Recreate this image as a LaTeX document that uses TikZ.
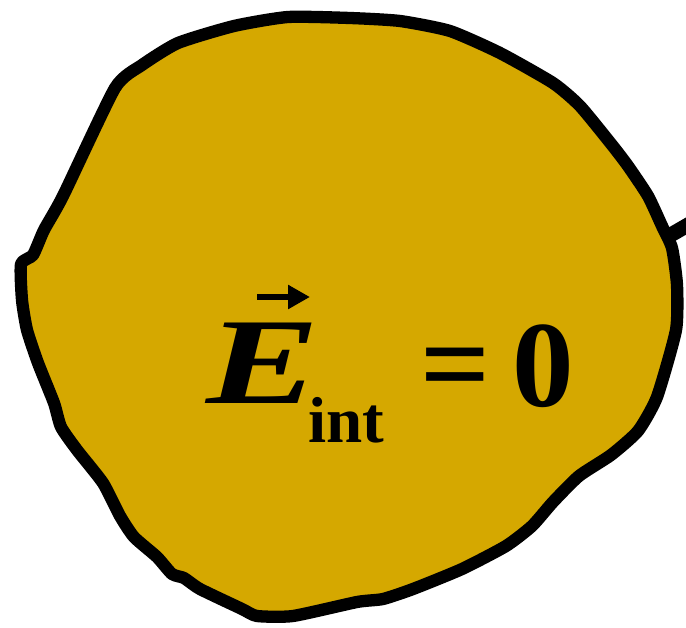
\documentclass[tikz,border=0pt]{standalone}
\usepackage{fontspec}
\setmainfont{Liberation Serif}
\usepackage{tikz}
\usetikzlibrary{arrows.meta}

\definecolor{conductor}{RGB}{213,168,0}

\begin{document}
\begin{tikzpicture}[
  x=0.02cm, y=-0.02cm,
  blob/.style={draw=black, fill=conductor, line width=7pt, line join=round},
  big/.style={inner sep=0pt, anchor=base west, font=\fontsize{70}{70}\selectfont\bfseries},
  sub/.style={inner sep=0pt, anchor=base west, font=\fontsize{37}{37}\selectfont\bfseries},
  vec/.style={-{Triangle[length=4.4mm, width=4.6mm]}, line width=3.4pt}
]
  \useasboundingbox (0,0) rectangle (686,628);
  % the conductor
  \draw[line width=8.5pt] (655,244) -- (700,218);
  \draw[blob] plot[smooth cycle, tension=0.35] coordinates {
    (288,17) (350,18) (400,21) (450,31) (500,53) (553,83) (580,106)
    (612,145) (628,166) (648,196) (662,226) (672,248) (677,285) (676,330)
    (657,397) (638,431) (611,455) (579,476) (553,502) (532,526) (506,546)
    (462,569) (413,589) (383,599) (357,602) (293,616) (257,616) (242,609)
    (200,589) (184,578) (172,574) (157,557) (134,537) (120,516) (103,483)
    (77,450) (61,427) (54,403) (38,363) (27,330) (22,300) (21,264)
    (33,255) (44,230) (63,196) (115,88) (142,65) (178,43) (234,26)};
  % field inside
  \node[big] (E) at (206,403) {\itshape\scalebox{1.38}[1]{E}};
  \coordinate (vecL) at (257,297);
  \coordinate (vecR) at (310,297);
  \draw[vec] (vecL) -- (vecR);
  \node[sub] (int) at (308,442) {int};
  \node[big] (eq) at (420,405) {=};
  \node[big] (zero) at (512,406) {0};
\end{tikzpicture}
\end{document}
